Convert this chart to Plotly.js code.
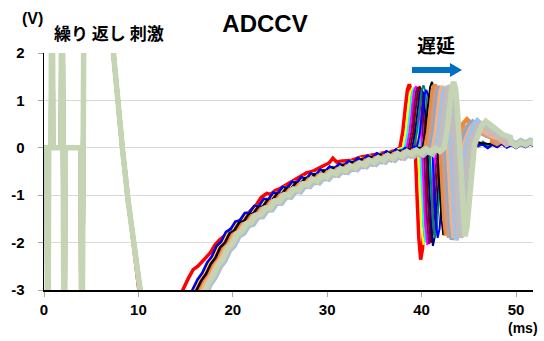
<!DOCTYPE html>
<html>
<head>
<meta charset="utf-8">
<script src="https://cdn.plot.ly/plotly-3.0.1.min.js"></script>
<style>html,body{margin:0;padding:0;background:#fff;}#chart{width:544px;height:341px;}</style>
</head>
<body>
<div id="chart"></div>
<script>
// ---- tick labels ----
const xTickVals = [0, 10, 20, 30, 40, 50];
const xTickText = ['0', '10', '20', '30', '40', '50'];
const yTickVals = [-3, -2, -1, 0, 1, 2];
const yTickText = ['-3', '-2', '-1', '0', '1', '2'];

// ---- series (one per repeated stimulus) ----
const seriesColors = ['#FF0000', '#FFFF00', '#00FFFF', '#FF00FF', '#800080', '#800000', '#000080', '#008080', '#0000FF', '#000000',
                      '#F0883A', '#C99A8E', '#8EA9C8', '#F4B183', '#9DC3E6', '#C9B7C0', '#BFBFBF', '#C5D5B3'];
const seriesWidths = [3.5, 2, 2, 2, 2, 2, 2, 2, 2, 2, 4.5, 4.5, 4.5, 4.5, 4.5, 4.5, 4.5, 5.5];
// time of positive peak of evoked response (ms)
const peakTimes   = [38.7, 39.0, 39.2, 39.4, 39.6, 39.8, 40.0, 40.2, 40.5, 41.1, 41.4, 41.7, 42.0, 42.2, 42.5, 42.8, 43.0, 43.4];
const peakVals    = [1.34, 1.27, 1.27, 1.30, 1.28, 1.30, 1.25, 1.32, 1.22, 1.39, 1.33, 1.30, 1.29, 1.30, 1.27, 1.30, 1.32, 1.39];
const troughVals  = [-2.36, -2.05, -2.0, -2.05, -2.03, -2.0, -2.07, -1.9, -1.9, -1.84, -1.85, -1.9, -1.94, -1.9, -1.95, -1.9, -1.9, -1.87];
const bumpVals    = [0.15, 0.15, 0.15, 0.15, 0.15, 0.15, 0.15, 0.15, 0.15, 0.2, 0.6, 0.5, 0.55, 0.5, 0.58, 0.5, 0.5, 0.56];
const recoveryShift = [0, -0.5, -0.3, -0.4, -0.2, -0.3, -0.7, -0.1, -0.75, -0.35, 0.0, 0.3, 0.5, 0.2, 0.7, 0.4, 0.6, 0.45];
const levelOffset   = [0, 0.03, 0.02, 0, 0.01, -0.02, 0.02, -0.03, 0.03, 0, -0.04, -0.06, -0.05, -0.03, -0.07, -0.04, -0.06, -0.02];

// ---- stimulus artifact (shared) ----
const artT = [0, 0.3, 0.4, 0.5, 0.75, 0.85, 0.95, 1.8, 1.9, 2.0, 2.05, 2.15, 2.25, 3.9, 4.0, 4.3, 4.45, 5.5, 6.5, 7.3, 7.8, 8.3, 8.9, 9.5, 10.05, 11.0];
const artV = [0, 0, -6, 0, 0, 6, 0, 0, 6, 0, 0, -6, 0, 0, -6, 6, 6, 5.5, 3.8, 2.0, 1.0, 0.0, -1.1, -2.1, -3.0, -4.2];

// ---- recovery of the baseline (bundle) ----
const recT = [12.0, 13.5, 15.0, 16.5, 17.0, 17.5, 18.0, 18.5, 19.0, 19.5, 20.0, 20.5, 21.0, 21.5, 22.0, 22.5, 23.0, 23.5, 24.0, 24.5,
              25.0, 25.5, 26.0, 26.5, 27.0, 27.5, 28.0, 28.5, 29.0, 29.5, 30.0, 30.5, 31.0, 31.5, 32.0, 32.5, 33.0, 33.5, 34.0, 34.5,
              35.0, 35.5, 36.0, 36.5, 37.0, 37.5, 38.0, 38.5, 39.0, 39.5, 40.0, 40.5, 41.0, 41.5, 42.0, 42.5, 43.0];
const recV = [-4.6, -4.4, -3.6, -3.0, -2.8, -2.66, -2.45, -2.32, -2.1, -2.0, -1.8, -1.74, -1.58, -1.55, -1.4, -1.39, -1.25, -1.25, -1.1, -1.11,
              -0.97, -0.98, -0.85, -0.87, -0.74, -0.76, -0.64, -0.68, -0.56, -0.6, -0.48, -0.52, -0.42, -0.46, -0.36, -0.4, -0.3, -0.34, -0.24, -0.29,
              -0.19, -0.24, -0.14, -0.2, -0.1, -0.16, -0.06, -0.12, -0.03, -0.09, 0.0, -0.07, 0.01, -0.06, 0.02, -0.05, 0.02];
// red series recovers earlier
const redRecT = [11.5, 13.0, 14.0, 14.7, 15.3, 15.8, 16.3, 16.7, 17.2, 17.6, 18.1, 18.6, 19.2, 19.7, 20.2, 20.6, 21.1, 21.5, 22.0, 22.5,
                 23.0, 23.6, 24.0, 24.5, 25.0, 25.5, 26.0, 26.5, 27.2, 27.8, 28.4, 29.0, 29.6, 30.2, 30.6, 31.0, 31.6, 32.5, 33.5, 34.5,
                 35.5, 36.5, 37.2, 37.7];
const redRecV = [-4.6, -4.3, -3.5, -3.0, -2.75, -2.57, -2.5, -2.42, -2.3, -2.22, -2.05, -1.94, -1.85, -1.73, -1.65, -1.58, -1.45, -1.41, -1.3, -1.2,
                 -1.05, -0.96, -0.98, -0.9, -0.86, -0.8, -0.74, -0.68, -0.6, -0.53, -0.5, -0.45, -0.38, -0.32, -0.22, -0.3, -0.28, -0.27, -0.2, -0.16,
                 -0.12, -0.09, -0.06, -0.04];

// ---- evoked response shape, time relative to peak ----
const spikeRel   = [-1.0, -0.7, -0.45, -0.2, 0, 0.2, 0.4, 0.6, 0.8, 1.0, 1.2, 1.4, 1.65, 1.9, 2.2, 2.6, 3.0, 3.4, 3.9, 4.5, 5.2, 6.0];
const spikeShape = [0.0, 0.25, 0.6, 0.92, 1.0, 0.9, 0.55, 0.1, -0.4, -0.8, -1.0, -0.9, -0.55, -0.2, 0.1, 0.5, 0.85, 1.0, 0.85, 0.65, 0.5, 0.4];
const spikePhase = ['P', 'P', 'P', 'P', 'P', 'P', 'P', 'P', 'N', 'N', 'N', 'N', 'N', 'N', 'B', 'B', 'B', 'B', 'B', 'B', 'B', 'B'];

// ---- late baseline ----
const tailT = [44.0, 44.5, 45.0, 45.5, 46.0, 46.5, 47.0, 47.5, 48.0, 48.5, 49.0, 49.5, 50.0, 50.5, 51.0, 51.5, 52.0];
const tailV = [0.02, 0.08, 0.03, 0.1, 0.04, 0.1, 0.02, 0.09, 0.04, 0.11, 0.03, 0.08, 0.02, 0.09, 0.04, 0.1, 0.05];

const traces = seriesColors.map((color, i) => {
  const tp = peakTimes[i];
  const x = artT.slice();
  const y = artV.slice();
  const rT = i === 0 ? redRecT : recT;
  const rV = i === 0 ? redRecV : recV;
  const sh = i === 0 ? 0 : recoveryShift[i];
  const off = levelOffset[i];
  for (let k = 0; k < rT.length; k++) {
    const t = rT[k] + sh;
    if (t > x[x.length - 1] && t < tp + spikeRel[0]) { x.push(t); y.push(rV[k] + off); }
  }
  for (let k = 0; k < spikeRel.length; k++) {
    const ph = spikePhase[k];
    const s = ph === 'P' ? peakVals[i] : (ph === 'N' ? -troughVals[i] : bumpVals[i]);
    x.push(tp + spikeRel[k]); y.push(spikeShape[k] * s);
  }
  const endT = tp + spikeRel[spikeRel.length - 1];
  for (let k = 0; k < tailT.length; k++) {
    if (tailT[k] > endT) { x.push(tailT[k]); y.push(tailV[k] - off); }
  }
  return {x: x, y: y, type: 'scatter', mode: 'lines', line: {color: color, width: seriesWidths[i]}, hoverinfo: 'skip', showlegend: false};
});

// plot area in pixels
const L = 44, R = 533, T = 53, B = 290;
const px = p => (p - L) / (R - L);
const py = p => (B - p) / (B - T);
const fontFam = '"Liberation Sans", Arial, sans-serif';
const cjk = '"Noto Sans CJK JP", "Noto Sans CJK SC", sans-serif';

const layout = {
  width: 544, height: 341,
  margin: {l: L, r: 544 - R, t: T, b: 341 - B, pad: 0},
  paper_bgcolor: '#fff', plot_bgcolor: '#fff',
  title: {text: 'ADCCV', font: {family: fontFam, size: 24, weight: 'bold', color: '#000'}, x: 265 / 544, xref: 'container', xanchor: 'center', y: 1 - 24 / 341, yref: 'container', yanchor: 'middle'},
  xaxis: {range: [0, 51.8], tickvals: xTickVals, ticktext: xTickText, showline: true, linecolor: '#000', linewidth: 1.5,
          ticks: 'outside', ticklen: 5, tickcolor: '#A6A6A6', showgrid: false, zeroline: false,
          tickfont: {family: fontFam, size: 15, weight: 'bold', color: '#000'}, ticklabelstandoff: 0, fixedrange: true},
  yaxis: {range: [-3, 2], tickvals: yTickVals, ticktext: yTickText, showline: true, linecolor: '#000', linewidth: 1.3,
          ticks: 'outside', ticklen: 5, tickcolor: '#A6A6A6', showgrid: true, gridcolor: '#D9D9D9', gridwidth: 1, zeroline: false,
          tickfont: {family: fontFam, size: 15, weight: 'bold', color: '#000'}, ticklabelstandoff: 10, fixedrange: true},
  annotations: [
    {text: '(V)', x: px(32), y: py(19), xref: 'paper', yref: 'paper', showarrow: false, xanchor: 'center', yanchor: 'middle',
     font: {family: fontFam, size: 16, weight: 'bold', color: '#000'}},
    {text: '繰り 返し 刺激', x: px(109), y: py(33), xref: 'paper', yref: 'paper', showarrow: false, xanchor: 'center', yanchor: 'middle',
     font: {family: cjk, size: 17, weight: 'bold', color: '#000'}},
    {text: '遅延', x: px(436), y: py(44), xref: 'paper', yref: 'paper', showarrow: false, xanchor: 'center', yanchor: 'middle',
     font: {family: cjk, size: 19, weight: 'bold', color: '#000'}},
    {text: '(ms)', x: px(523), y: py(328), xref: 'paper', yref: 'paper', showarrow: false, xanchor: 'center', yanchor: 'middle',
     font: {family: fontFam, size: 14, weight: 'bold', color: '#000'}}
  ],
  shapes: [
    {type: 'line', xref: 'paper', yref: 'paper', x0: px(412), x1: px(452), y0: py(70), y1: py(70), line: {color: '#0070C0', width: 6}},
    {type: 'path', xref: 'paper', yref: 'paper',
     path: 'M ' + px(450) + ' ' + py(63) + ' L ' + px(462) + ' ' + py(70) + ' L ' + px(450) + ' ' + py(77) + ' Z',
     fillcolor: '#0070C0', line: {color: '#0070C0', width: 0}}
  ]
};

Plotly.newPlot('chart', traces, layout, {displayModeBar: false, staticPlot: true});
</script>
</body>
</html>
